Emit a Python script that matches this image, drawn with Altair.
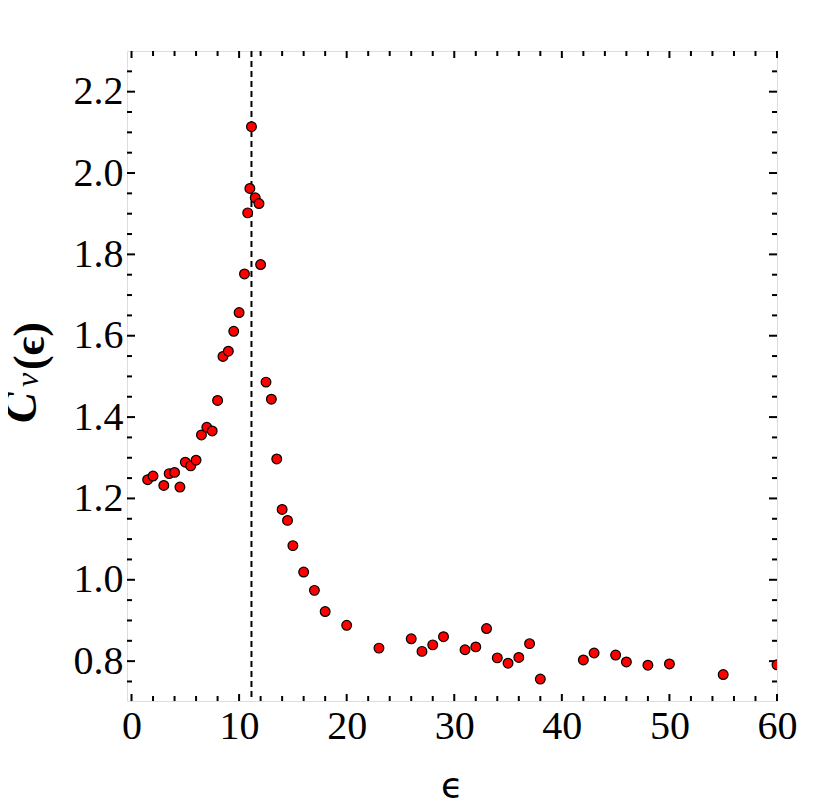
import altair as alt
import pandas as pd

# data
eps = [1.5, 2, 3, 3.5, 4, 4.5, 5, 5.5, 6, 6.5, 7, 7.5, 8, 8.5, 9, 9.5, 10, 10.5,
       10.8, 11, 11.15, 11.5, 11.85, 12, 12.5, 13, 13.5, 14, 14.5, 15, 16, 17, 18,
       20, 23, 26, 27, 28, 29, 31, 32, 33, 34, 35, 36, 37, 38, 42, 43, 45, 46, 48,
       50, 55, 60]
cv = [1.246, 1.255, 1.232, 1.261, 1.264, 1.228, 1.289, 1.280, 1.294, 1.356, 1.375,
      1.366, 1.441, 1.549, 1.562, 1.611, 1.657, 1.752, 1.902, 1.962, 2.114, 1.939,
      1.925, 1.775, 1.486, 1.444, 1.297, 1.173, 1.146, 1.084, 1.019, 0.974, 0.922,
      0.888, 0.832, 0.855, 0.824, 0.840, 0.860, 0.828, 0.835, 0.880, 0.808, 0.795,
      0.809, 0.843, 0.756, 0.803, 0.820, 0.815, 0.798, 0.790, 0.793, 0.767, 0.791]
critical_eps = [11.15]

x_major = [0, 10, 20, 30, 40, 50, 60]
x_minor = [v for v in range(2, 60, 2) if v % 10 != 0]
y_major = [0.8, 1.0, 1.2, 1.4, 1.6, 1.8, 2.0, 2.2]
y_all = [round(0.75 + 0.05 * i, 2) for i in range(0, 31)]
y_minor = [v for v in y_all if all(abs(v - m) > 1e-6 for m in y_major)]

W, H = 650, 650
FONT = "Liberation Serif"

xscale = alt.Scale(domain=[-0.42, 60], nice=False, zero=False)
yscale = alt.Scale(domain=[0.702, 2.3], nice=False, zero=False)

xaxis = alt.Axis(values=x_major, ticks=False, domain=False, grid=False,
                 tickSize=0, labelPadding=5, labelFont=FONT,
                 labelFontSize=40, labelColor="black", title=None,
                 labelFlush=False, labelOverlap=False)
yaxis = alt.Axis(values=y_major, ticks=False, domain=False, grid=False,
                 tickSize=0, labelPadding=4, labelFont=FONT,
                 labelFontSize=40, labelColor="black", title=None,
                 format=".1f", labelFlush=False, labelOverlap=False)

df = pd.DataFrame({"eps": eps, "cv": cv})

points = alt.Chart(df).mark_point(
    filled=True, shape="circle", size=95, fill="#ff0000", stroke="black",
    strokeWidth=1.2, opacity=1, clip=True
).encode(
    x=alt.X("eps:Q", scale=xscale, axis=xaxis),
    y=alt.Y("cv:Q", scale=yscale, axis=yaxis),
)

vline = alt.Chart(pd.DataFrame({"c": critical_eps})).mark_rule(
    color="black", strokeWidth=2, strokeDash=[6, 4], clip=True
).encode(x=alt.X("c:Q", scale=xscale, axis=xaxis), y=alt.value(0), y2=alt.value(H))


def xticks(vals, length):
    d = pd.DataFrame({"v": vals})
    base = alt.Chart(d).mark_rule(color="black", strokeWidth=2)
    bottom = base.encode(x=alt.X("v:Q", scale=xscale, axis=xaxis),
                         y=alt.value(H), y2=alt.value(H - length))
    top = base.encode(x=alt.X("v:Q", scale=xscale, axis=xaxis),
                      y=alt.value(0), y2=alt.value(length))
    return [bottom, top]


def yticks(vals, length):
    d = pd.DataFrame({"v": vals})
    base = alt.Chart(d).mark_rule(color="black", strokeWidth=2)
    left = base.encode(y=alt.Y("v:Q", scale=yscale, axis=yaxis),
                       x=alt.value(0), x2=alt.value(length))
    right = base.encode(y=alt.Y("v:Q", scale=yscale, axis=yaxis),
                        x=alt.value(W), x2=alt.value(W - length))
    return [left, right]


one = pd.DataFrame({"a": [0]})
title_c = alt.Chart(one).mark_text(
    text="C", font=FONT, fontSize=46, fontStyle="italic", fontWeight="bold",
    angle=270, align="left", baseline="alphabetic", color="black"
).encode(x=alt.value(-91), y=alt.value(372))
title_nu = alt.Chart(one).mark_text(
    text="ν", font=FONT, fontSize=32, fontStyle="italic",
    angle=270, align="left", baseline="alphabetic", color="black"
).encode(x=alt.value(-89), y=alt.value(336))
title_eps = alt.Chart(one).mark_text(
    text="(ϵ)", font=FONT, fontSize=44, fontWeight="bold",
    angle=270, align="left", baseline="alphabetic", color="black"
).encode(x=alt.value(-83), y=alt.value(319))
xtitle = alt.Chart(one).mark_text(
    text="ϵ", font="DejaVu Sans", fontSize=36,
    align="center", baseline="alphabetic", color="black"
).encode(x=alt.value(W / 2), y=alt.value(747))

layers = (xticks(x_major, 7) + xticks(x_minor, 5) + yticks(y_major, 8)
          + yticks(y_minor, 5) + [vline, points, title_c, title_nu, title_eps, xtitle])

chart = alt.layer(*layers).properties(
    width=W, height=H,
    autosize=alt.AutoSizeParams(type="none"),
    padding={"left": 119, "top": 43, "right": 45, "bottom": 103},
).configure_view(stroke="#999999", strokeWidth=1).configure(background="white")

chart.save("out.html", embed_options={"renderer": "svg", "actions": False})
